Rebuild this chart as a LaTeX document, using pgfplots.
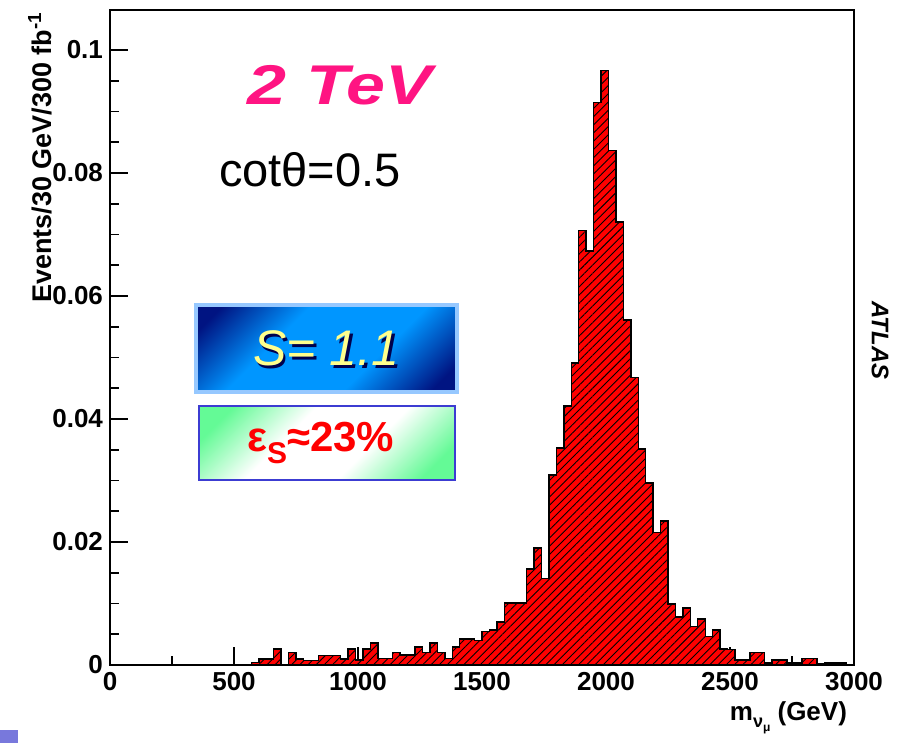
\documentclass[border=0pt]{standalone}
\usepackage{pgfplots}
\pgfplotsset{compat=1.18}
\usepackage{fontspec}
\setmainfont{Liberation Sans}
\usetikzlibrary{patterns.meta}
\definecolor{tevpink}{RGB}{255,20,130}
\definecolor{navyb}{RGB}{0,20,130}
\definecolor{brightb}{RGB}{0,150,255}
\definecolor{lightbb}{RGB}{150,200,255}
\definecolor{mintg}{RGB}{100,250,150}
\definecolor{boxblue}{RGB}{60,60,210}
\definecolor{sytext}{RGB}{255,255,140}
\definecolor{slidesq}{RGB}{120,120,220}
\pgfdeclareverticalshading{blueshade}{100bp}{color(0bp)=(navyb); color(20bp)=(navyb); color(38bp)=(brightb); color(62bp)=(brightb); color(80bp)=(navyb); color(100bp)=(navyb)}
\pgfdeclareverticalshading{greenshade}{100bp}{color(0bp)=(mintg); color(22bp)=(mintg); color(40bp)=(white); color(60bp)=(white); color(78bp)=(mintg); color(100bp)=(mintg)}
\begin{document}
\begin{tikzpicture}
\begin{axis}[name=ax, scale only axis, width=372pt, height=327.5pt,
  xmin=0, xmax=3000, ymin=0, ymax=0.1065,
  clip=false,
  axis line style={line width=1pt},
  xtick={0,500,1000,1500,2000,2500,3000}, minor x tick num=1,
  ytick={0,0.02,0.04,0.06,0.08,0.1}, minor y tick num=3,
  tick align=inside, xtick pos=bottom, ytick pos=left,
  major tick length=9pt, minor tick length=4.5pt,
  tick style={black, line width=0.8pt},
  scaled x ticks=false, scaled y ticks=false,
  /pgf/number format/assume math mode=true,
  /pgf/number format/1000 sep={},
  yticklabel style={/pgf/number format/fixed, /pgf/number format/precision=2},
  tick label style={font=\fontsize{13}{15}\selectfont\bfseries},
  xlabel={m\raisebox{-0.5ex}{\fontsize{9}{9}\selectfont ν\raisebox{-0.4ex}{\fontsize{6}{6}\selectfont μ}} (GeV)},
  xlabel style={at={(axis description cs:1,-0.081)}, anchor=east, font=\fontsize{13}{15}\selectfont\bfseries},
  ylabel={Events/30 GeV/300 fb\textsuperscript{-1}},
  ylabel style={at={(axis description cs:-0.094,1.008)}, anchor=east, font=\fontsize{13.5}{15}\selectfont\bfseries},
]
\addplot[const plot, draw=black, line width=0.7pt, fill=red,
  postaction={pattern={Lines[angle=45,distance=2.9pt,line width=0.45pt]}, pattern color=black}]
coordinates {
(570,0.0004)(600,0.001)(630,0.001)(660,0.0026)(690,0)(720,0.002)(750,0.001)
(780,0.0007)(810,0.0007)(840,0.0015)(870,0.0015)(900,0.0015)(930,0.001)
(960,0.0026)(990,0.0008)(1020,0.0026)(1050,0.0036)(1080,0.0011)(1110,0.0011)
(1140,0.002)(1170,0.0016)(1200,0.0016)(1230,0.0029)(1260,0.002)(1290,0.0036)
(1320,0.002)(1350,0.0011)(1380,0.0029)(1410,0.0042)(1440,0.0042)(1470,0.004)
(1500,0.0054)(1530,0.0057)(1560,0.0070)(1590,0.0101)(1620,0.0101)(1650,0.0101)
(1680,0.0156)(1710,0.019)(1740,0.0141)(1770,0.0309)(1800,0.0353)(1830,0.0421)
(1860,0.0491)(1890,0.0706)(1920,0.0673)(1950,0.0915)(1980,0.0967)(2010,0.0837)
(2040,0.0720)(2070,0.0561)(2100,0.0467)(2130,0.0351)(2160,0.0296)(2190,0.0215)
(2220,0.0234)(2250,0.0099)(2280,0.0078)(2310,0.0093)(2340,0.0063)(2370,0.0075)
(2400,0.0046)(2430,0.0057)(2460,0.0026)(2490,0.0025)(2520,0.0008)(2550,0.0008)
(2580,0.0020)(2610,0.0020)(2640,0.0003)(2670,0.0008)(2700,0.0008)(2730,0.0003)
(2760,0.0003)(2790,0.0011)(2820,0.0011)(2850,0.0002)(2880,0.0003)(2910,0.0003)
(2940,0.0003)(2970,0)(3000,0)
} \closedcycle;
% annotations
\node[text=tevpink, font=\fontsize{28}{30}\selectfont\bfseries\itshape, xscale=1.25] at (axis cs:927,0.0943) {2 TeV};
\node[text=black, font=\fontsize{23.5}{25}\selectfont] at (axis cs:806,0.0805) {cotθ=0.5};
\shade[shading=blueshade, shading angle=45]
  (axis cs:347,0.0444) rectangle (axis cs:1399,0.0585);
\draw[lightbb, line width=2pt] (axis cs:347,0.0444) rectangle (axis cs:1399,0.0585);
\node[text=black!70!blue, font=\fontsize{25}{27}\selectfont\itshape] at ([shift={(1.2pt,-1.2pt)}]axis cs:873,0.05145) {S= 1.1};
\node[text=sytext, font=\fontsize{25}{27}\selectfont\itshape] at (axis cs:873,0.05145) {S= 1.1};
\shade[shading=greenshade, shading angle=45]
  (axis cs:359,0.0301) rectangle (axis cs:1391,0.0421);
\draw[boxblue, line width=1pt] (axis cs:359,0.0301) rectangle (axis cs:1391,0.0421);
\node[text=red, font=\fontsize{21}{23}\selectfont\bfseries] at (axis cs:850,0.0361) {ε\raisebox{-0.5ex}{\fontsize{15}{15}\selectfont S}≈23\%};
\node[rotate=-90, font=\fontsize{12}{14}\selectfont\bfseries\itshape] at (axis cs:3105,0.0528) {ATLAS};
\end{axis}
\fill[slidesq] ([shift={(-55pt,-39pt)}]ax.south west) rectangle ([shift={(-46pt,-32.5pt)}]ax.south west);
\pgfresetboundingbox
\path[use as bounding box] ([shift={(-55pt,-39pt)}]ax.south west) rectangle ([shift={(24.5pt,5pt)}]ax.north east);
\end{tikzpicture}
\end{document}
